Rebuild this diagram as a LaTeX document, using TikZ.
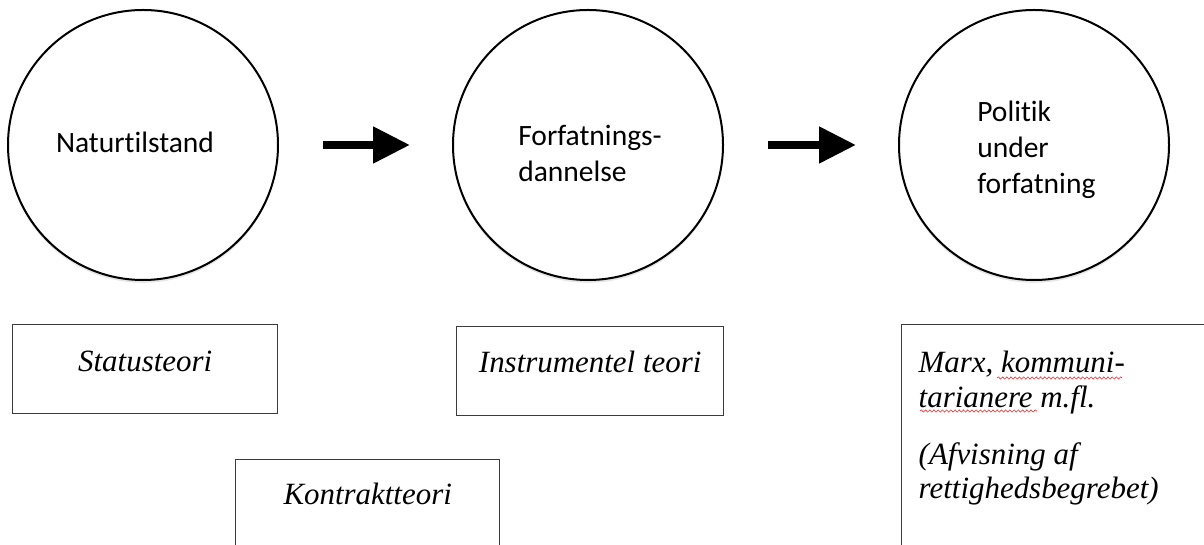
\documentclass[tikz,border=0pt]{standalone}
\usepackage{fontspec}
\setmainfont{Liberation Serif}
\newfontfamily\bubblefont[Ligatures={NoCommon}]{Carlito}
\usetikzlibrary{arrows.meta}
\usetikzlibrary{calc}
\usetikzlibrary{shadows}
\usetikzlibrary{decorations.pathmorphing}
\tikzset{>={Triangle[length=9.25mm,width=8.75mm]}}
\definecolor{boxgray}{RGB}{60,60,60}
\definecolor{spellred}{RGB}{235,45,45}
\tikzstyle{bubble}=[circle,draw=black,line width=0.5mm,fill=white,minimum size=6.75cm,inner sep=0pt,
  drop shadow={shadow xshift=0pt,shadow yshift=-0.07cm,opacity=0.2,fill=gray}]
\tikzstyle{bubbletext}=[font=\bubblefont\fontsize{21}{25.6}\selectfont,inner sep=0pt,align=left]
\tikzstyle{theorybox}=[draw=boxgray,line width=0.35mm,inner xsep=0pt,inner ysep=0pt,
  font=\itshape\fontsize{22}{24.5}\selectfont]
\tikzstyle{thickarrow}=[->,line width=2mm]
\tikzstyle{spellwave}=[draw=spellred,line width=0.4pt,decorate,decoration={snake,amplitude=0.8pt,segment length=3pt}]

\begin{document}
\begin{tikzpicture}
  \useasboundingbox (0,0) rectangle (30.1,13.625);
  \clip (0,0) rectangle (30.1,13.625);

  % stages
  \node[bubble] (nat) at (3.575,10.0) {};
  \node[bubble] (forf) at (14.7,10.0) {};
  \node[bubble] (pol) at (25.85,10.0) {};
  \node[bubbletext,anchor=base] (nattext) at (3.375,9.8) {Naturtilstand};
  \node[bubbletext,anchor=north west] (forftext) at (12.95,10.5) {Forfatnings-\\dannelse};
  \node[bubbletext,anchor=north west] (poltext) at (24.425,11.1) {Politik\\under\\forfatning};

  \coordinate (a1) at ($(nat.east)+(1.1,0)$);
  \coordinate (b1) at ($(forf.west)+(-1.05,0)$);
  \coordinate (a2) at ($(forf.east)+(1.1,0)$);
  \coordinate (b2) at ($(pol.west)+(-1.05,0)$);
  \draw[thickarrow] (a1) -- (b1);
  \draw[thickarrow] (a2) -- (b2);

  % theories
  \node[theorybox,anchor=north west,minimum width=6.625cm,text height=1.175cm,text depth=1.05cm] (status) at (0.3,5.525) {Statusteori};
  \node[theorybox,anchor=north west,minimum width=6.675cm,text height=1.15cm,text depth=1.075cm] (instr) at (11.4,5.475) {Instrumentel teori};
  \node[theorybox,anchor=north west,minimum width=6.6cm,text height=1.125cm,text depth=2cm] (kontrakt) at (5.875,2.15) {Kontraktteori};
  \node[theorybox,anchor=north west,inner xsep=0.425cm,text height=1.2cm,text depth=6cm] (marx) at (22.525,5.525)
    {\parbox[t]{7.5cm}{\raggedright Marx, kommuni-\\tarianere m.fl.\\[16pt](Afvisning af\\rettighedsbegrebet)}};

  % spelling marks
  \coordinate (w1a) at ($(marx.north west)+(2.4,-1.35)$);
  \coordinate (w1b) at ($(marx.north west)+(5.525,-1.35)$);
  \coordinate (w2a) at ($(marx.north west)+(0.475,-2.175)$);
  \coordinate (w2b) at ($(marx.north west)+(3.4,-2.175)$);
  \draw[spellwave] (w1a) -- (w1b);
  \draw[spellwave] (w2a) -- (w2b);
\end{tikzpicture}
\end{document}
